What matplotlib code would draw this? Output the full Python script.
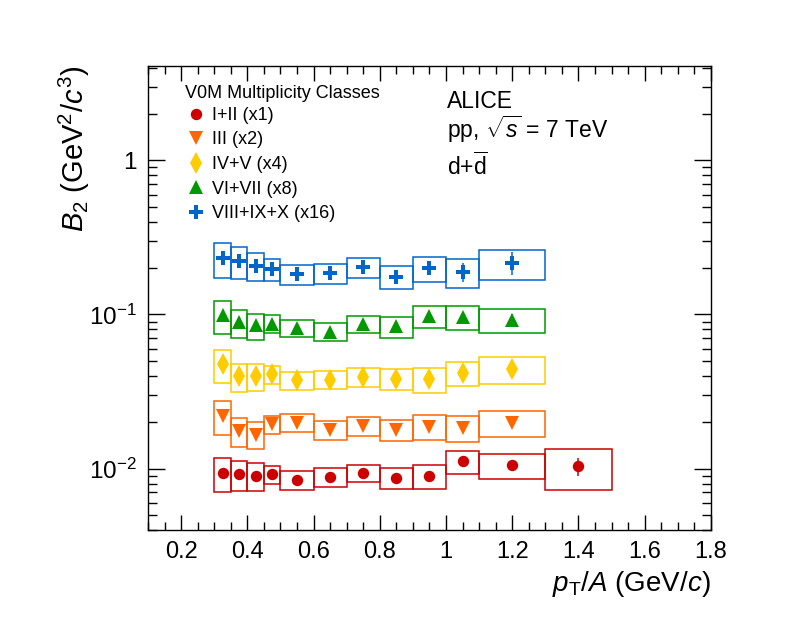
import matplotlib
matplotlib.use("Agg")
import matplotlib.pyplot as plt
from matplotlib.ticker import FixedLocator, LogLocator, NullFormatter, FixedFormatter
import numpy as np

plt.rcParams['font.family'] = ['Liberation Sans', 'DejaVu Sans']
plt.rcParams['mathtext.fontset'] = 'custom'
plt.rcParams['mathtext.rm'] = 'Liberation Sans'
plt.rcParams['mathtext.it'] = 'Liberation Sans:italic'
plt.rcParams['mathtext.bf'] = 'Liberation Sans:bold'

# pT/A bin edges
edges = [0.30, 0.35, 0.40, 0.45, 0.50, 0.60, 0.70, 0.80, 0.90, 1.00, 1.10, 1.30, 1.50]

# B2 (unscaled) per multiplicity class
b2_I_II = [0.00935, 0.00921, 0.00898, 0.00921, 0.00843, 0.00883, 0.00935, 0.00871, 0.00894, 0.01119, 0.01054, 0.01035]
b2_III = [0.01096, 0.00879, 0.00831, 0.00968, 0.00991, 0.00896, 0.00951, 0.00896, 0.00937, 0.00923, 0.00986]
b2_IV_V = [0.01190, 0.00993, 0.00995, 0.01020, 0.00935, 0.00943, 0.00988, 0.00958, 0.00948, 0.01040, 0.01103]
b2_VI_VII = [0.01234, 0.01111, 0.01063, 0.01091, 0.01016, 0.00969, 0.01079, 0.01046, 0.01215, 0.01198, 0.01159]
b2_VIII_X = [0.01456, 0.01386, 0.01291, 0.01230, 0.01141, 0.01164, 0.01273, 0.01097, 0.01254, 0.01181, 0.01351]

# relative systematic uncertainties
sys_I_II = [0.250, 0.221, 0.207, 0.134, 0.142, 0.142, 0.127, 0.156, 0.173, 0.171, 0.185, 0.293]
sys_III = [0.250, 0.213, 0.199, 0.133, 0.133, 0.143, 0.141, 0.162, 0.184, 0.192, 0.192]
sys_IV_V = [0.243, 0.207, 0.193, 0.134, 0.134, 0.134, 0.139, 0.156, 0.178, 0.178, 0.200]
sys_VI_VII = [0.243, 0.207, 0.193, 0.134, 0.125, 0.134, 0.127, 0.156, 0.163, 0.178, 0.178]
sys_VIII_X = [0.257, 0.228, 0.207, 0.156, 0.149, 0.149, 0.149, 0.171, 0.185, 0.214, 0.221]

# relative statistical uncertainties
stat_I_II = [0.02, 0.02, 0.02, 0.02, 0.03, 0.03, 0.03, 0.04, 0.05, 0.05, 0.07, 0.14]
stat_III = [0.03, 0.03, 0.03, 0.03, 0.03, 0.03, 0.04, 0.04, 0.05, 0.06, 0.07]
stat_IV_V = [0.03, 0.03, 0.03, 0.03, 0.03, 0.03, 0.04, 0.04, 0.05, 0.06, 0.07]
stat_VI_VII = [0.03, 0.03, 0.03, 0.03, 0.03, 0.04, 0.04, 0.05, 0.06, 0.07, 0.08]
stat_VIII_X = [0.04, 0.04, 0.04, 0.04, 0.04, 0.05, 0.05, 0.06, 0.08, 0.14, 0.17]

labels = ['I+II (x1)', 'III (x2)', 'IV+V (x4)', 'VI+VII (x8)', 'VIII+IX+X (x16)']
scales = [1, 2, 4, 8, 16]
colors = ['#cc0000', '#ff6600', '#ffcc00', '#009900', '#0066cc']
markers = ['o', 'v', 'd', '^', 'P']
msizes = [8.2, 9.5, 10.8, 9.5, 10.5]

series = [
    (b2_I_II, sys_I_II, stat_I_II),
    (b2_III, sys_III, stat_III),
    (b2_IV_V, sys_IV_V, stat_IV_V),
    (b2_VI_VII, sys_VI_VII, stat_VI_VII),
    (b2_VIII_X, sys_VIII_X, stat_VIII_X),
]

fig = plt.figure(figsize=(7.96, 6.22), dpi=100)
ax = fig.add_axes([0.186, 0.148, 0.707, 0.746])

edges = np.array(edges)
for (vals, sys, stat), sc, col, mk, ms, lab in zip(series, scales, colors, markers, msizes, labels):
    v = np.array(vals) * sc
    n = len(v)
    lo = edges[:n]
    w = edges[1:n + 1] - lo
    x = lo + w / 2
    s = np.array(sys)
    ax.bar(lo, 2 * v * s, width=w, bottom=v * (1 - s), align='edge',
           fill=False, edgecolor=col, linewidth=1.1, zorder=2)
    ax.errorbar(x, v, yerr=v * np.array(stat), fmt='none', ecolor=col,
                elinewidth=1.1, capsize=0, zorder=3)
    ax.plot(x, v, ls='none', marker=mk, ms=ms, color=col, mec=col,
            mew=0, label=lab, zorder=4)

ax.set_yscale('log')
ax.set_xlim(0.1, 1.8)
ax.set_ylim(0.004, 4.1)

xt = [0.2, 0.4, 0.6, 0.8, 1.0, 1.2, 1.4, 1.6, 1.8]
xtl = ['0.2', '0.4', '0.6', '0.8', '1', '1.2', '1.4', '1.6', '1.8']
ax.xaxis.set_major_locator(FixedLocator(xt))
ax.xaxis.set_major_formatter(FixedFormatter(xtl))
ax.xaxis.set_minor_locator(FixedLocator(np.arange(0.1, 1.81, 0.05)))

ax.yaxis.set_major_locator(FixedLocator([0.01, 0.1, 1]))
ax.yaxis.set_major_formatter(FixedFormatter([r'$10^{-2}$', r'$10^{-1}$', '1']))
ax.yaxis.set_minor_locator(LogLocator(base=10, subs=np.arange(2, 10)))
ax.yaxis.set_minor_formatter(NullFormatter())

ax.tick_params(which='both', direction='in', top=True, right=True, width=1)
ax.tick_params(axis='x', which='major', length=11, labelsize=17, pad=8)
ax.tick_params(axis='x', which='minor', length=5.5)
ax.tick_params(axis='y', which='major', length=12, labelsize=17.5, pad=8)
ax.tick_params(axis='y', which='minor', length=6.5)
for sp in ax.spines.values():
    sp.set_linewidth(1)

ax.set_xlabel(r'$p_{\mathrm{T}}/A$ (GeV/$c$)', fontsize=20, loc='right', labelpad=4)
ax.set_ylabel(r'$B_2$ (GeV$^2$/$c^3$)', fontsize=21, loc='top', va='center')
ax.yaxis.set_label_coords(-0.13, 1.0)

ax.text(0.066, 0.941, 'V0M Multiplicity Classes', transform=ax.transAxes,
        fontsize=13, va='center')
ax.legend(loc='upper left', bbox_to_anchor=(0.046, 0.939), frameon=False,
          fontsize=13, handlelength=1.0, handletextpad=0.4,
          labelspacing=0.42, borderpad=0.2)

ax.text(0.531, 0.909, 'ALICE', transform=ax.transAxes, fontsize=16.5, va='baseline')
ax.text(0.531, 0.844, r'pp, $\sqrt{s}$ = 7 TeV', transform=ax.transAxes, fontsize=16.5, va='baseline')
ax.text(0.531, 0.765, r'd+$\overline{\mathrm{d}}$', transform=ax.transAxes, fontsize=16.5, va='baseline')

fig.savefig('out.png', dpi=100)
